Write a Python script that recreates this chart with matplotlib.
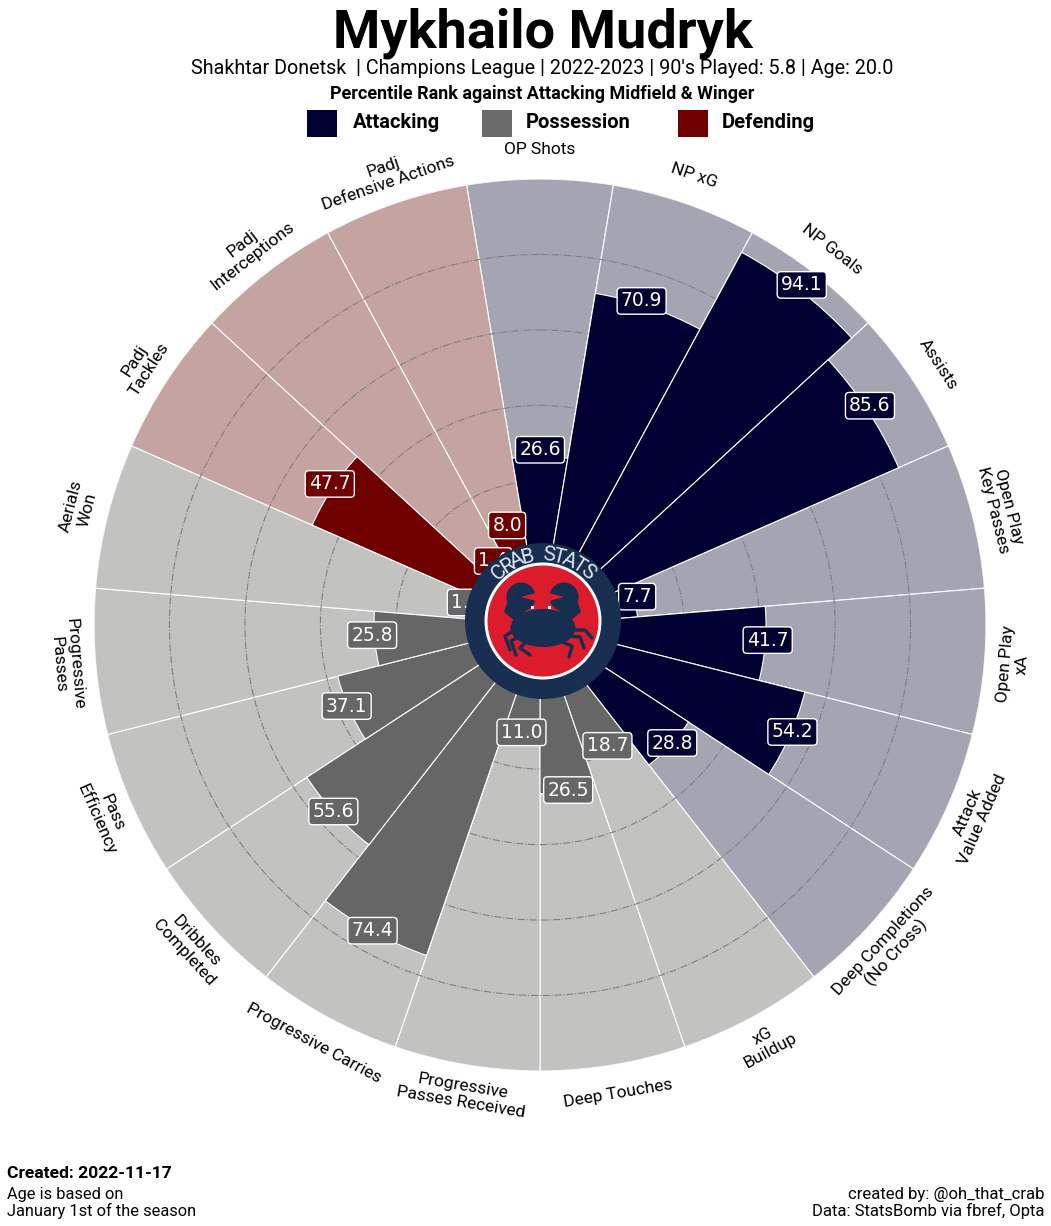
import numpy as np
import matplotlib
matplotlib.use("Agg")
import matplotlib.pyplot as plt
from matplotlib.patches import Circle, Ellipse, Rectangle, Wedge, Polygon

stats = ["OP Shots", "NP xG", "NP Goals", "Assists", "Open Play\nKey Passes", "Open Play\nxA",
         "Attack\nValue Added", "Deep Completions\n(No Cross)", "xG\nBuildup", "Deep Touches",
         "Progressive\nPasses Received", "Progressive Carries", "Dribbles\nCompleted",
         "Pass\nEfficiency", "Progressive\nPasses", "Aerials\nWon", "Padj\nTackles",
         "Padj\nInterceptions", "Padj\nDefensive Actions"]
values = [26.6, 70.9, 94.1, 85.6, 7.7, 41.7, 54.2, 28.8, 18.7, 26.5, 11.0, 74.4, 55.6, 37.1,
          25.8, 1.4, 47.7, 1.4, 8.0]
groups = ["att"] * 8 + ["pos"] * 8 + ["def"] * 3
colors = {"att": "#000033", "pos": "#666666", "def": "#700000"}
back = {"att": "#a4a4b3", "pos": "#c2c2c0", "def": "#c4a3a0"}
legend_names = ["Attacking", "Possession", "Defending"]
legend_keys = ["att", "pos", "def"]

plain = "Roboto"

W, H = 1051, 1226
fig = plt.figure(figsize=(W / 100, H / 100), dpi=100, facecolor="white")

ax = fig.add_axes([94 / W, (H - 1071) / H, 892 / W, 892 / H], projection="polar")
ax.set_theta_zero_location("N")
ax.set_theta_direction(-1)
ax.set_rlim(0, 100)
ax.set_rorigin(-18.2)
ax.patch.set_alpha(0)
ax.spines["polar"].set_visible(False)

n = len(stats)
theta = np.arange(n) * 2 * np.pi / n
width = 2 * np.pi / n
ax.bar(theta, [100] * n, width=width, color=[back[g] for g in groups], edgecolor="white", linewidth=0.8, zorder=1)
ax.bar(theta, values, width=width, color=[colors[g] for g in groups], edgecolor="white", linewidth=0.8, zorder=3)

ax.set_axisbelow(False)
ax.set_yticks([20, 40, 60, 80])
ax.set_yticklabels([])
ax.set_xticks([])
ax.yaxis.grid(True, color="#808080", linestyle="-.", linewidth=0.8)
for l in ax.yaxis.get_gridlines():
    l.set_zorder(2)

for i, (t, v, g, s) in enumerate(zip(theta, values, groups, stats)):
    # NP xG label sits off its bar in the original
    dx = -6 if i == 1 else 0
    ax.annotate("%.1f" % v, (t, v + 0.65), xytext=(dx, 2.7), textcoords="offset points", color="white",
                fontsize=13.5, family="DejaVu Sans", ha="center", va="center", zorder=5,
                bbox=dict(boxstyle="round,pad=0.2", facecolor=colors[g], edgecolor="white", linewidth=1))
    deg = np.degrees(t)
    rot = 180 - deg if 90 < deg < 270 else -deg
    ax.text(t, 107.8, s, fontsize=12.5, family=plain, ha="center", va="center", rotation=rot,
            rotation_mode="anchor", linespacing=1.12, clip_on=False)

# overlay in pixel coords for legend and logo
ov = fig.add_axes([0, 0, 1, 1], zorder=10)
ov.set_xlim(0, W)
ov.set_ylim(H, 0)
ov.axis("off")

x_sq = [307, 482, 678]
x_tx = [353, 526, 722]
for xs, xt, name, key in zip(x_sq, x_tx, legend_names, legend_keys):
    c = "#6b6b6b" if key == "pos" else colors[key]
    ov.add_patch(Rectangle((xs, 110), 30, 27, facecolor=c, edgecolor="none"))
    ov.text(xt, 123, name, fontsize=14.5, fontweight="bold", family=plain, ha="left", va="center")

ov.text(543, 33, "Mykhailo Mudryk", fontsize=39, fontweight="bold", family=plain, ha="center", va="center")
ov.text(542, 69, "Shakhtar Donetsk  | Champions League | 2022-2023 | 90's Played: 5.8 | Age: 20.0",
        fontsize=14.2, family=plain, ha="center", va="center")
ov.text(542, 94, "Percentile Rank against Attacking Midfield & Winger", fontsize=13, fontweight="bold",
        family=plain, ha="center", va="center")

ov.text(7, 1174, "Created: 2022-11-17", fontsize=12.6, fontweight="bold", family=plain, ha="left", va="center")
ov.text(7, 1203, "Age is based on\nJanuary 1st of the season", fontsize=11.8, family=plain, ha="left", va="center", linespacing=1.05)
ov.text(1044, 1203, "created by: @oh_that_crab\nData: StatsBomb via fbref, Opta", fontsize=12, family=plain,
        ha="right", va="center", linespacing=1.05, multialignment="right")

# logo
cx, cy = 543, 621
navy = "#172e50"
red = "#dc1c2c"
ov.add_patch(Circle((cx, cy), 78, facecolor=navy, edgecolor="none"))
ov.add_patch(Circle((cx, cy), 58.5, facecolor="white", edgecolor="none"))
ov.add_patch(Circle((cx, cy), 55.5, facecolor=red, edgecolor="none"))

letters = "CRAB STATS"
for a, ch in zip(np.linspace(-42, 42, len(letters)), letters):
    ra = np.radians(a)
    ov.text(cx + 66 * np.sin(ra), cy - 66 * np.cos(ra), ch, color="#dfe6ee", fontsize=15, family=plain,
            ha="center", va="center", rotation=-a, rotation_mode="anchor")

ov.add_patch(Ellipse((543, 628), 65, 38, facecolor=navy, edgecolor="none"))
# claws, opening towards the middle
ov.add_patch(Wedge((521, 597), 14.5, 15, 345, facecolor=navy, edgecolor="none"))
ov.add_patch(Wedge((564, 597), 14.5, 195, 165, facecolor=navy, edgecolor="none"))
ov.add_patch(Polygon([(508, 600), (520, 605), (530, 617), (522, 627), (504, 612)], facecolor=navy, edgecolor="none"))
ov.add_patch(Polygon([(577, 600), (565, 605), (555, 617), (563, 627), (581, 612)], facecolor=navy, edgecolor="none"))
legs = [[(515, 630), (505, 636), (510, 650)], [(520, 636), (511, 641), (516, 655)], [(526, 642), (520, 648), (530, 655)],
        [(570, 630), (585, 630), (592, 638)], [(568, 636), (580, 637), (584, 648)], [(562, 642), (572, 646), (569, 657)]]
for leg in legs:
    xs, ys = zip(*leg)
    ov.plot(xs, ys, color=navy, lw=2.5, solid_capstyle="round")
ov.add_patch(Rectangle((530.5, 606), 3, 3, facecolor="white", edgecolor="none"))
ov.add_patch(Rectangle((547.5, 606), 3, 3, facecolor="white", edgecolor="none"))

fig.savefig("out.png", dpi=100, facecolor="white")
